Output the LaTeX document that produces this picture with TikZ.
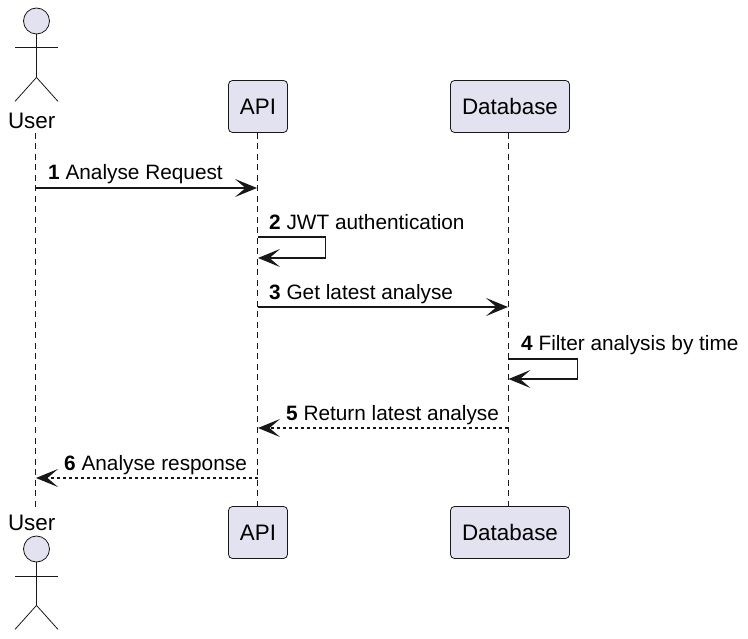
\documentclass[tikz,border=0pt]{standalone}
\usepackage{fontspec}
\setmainfont{Liberation Sans}
\usetikzlibrary{arrows.meta,calc}
\definecolor{pfill}{HTML}{E2E2F0}
\definecolor{pline}{HTML}{181818}
\tikzset{
  participant/.style={draw=pline,fill=pfill,line width=0.8pt,rounded corners=4pt,inner sep=0pt,
    minimum height=52pt,font=\fontsize{22.4}{26}\selectfont,text=black},
  actorpart/.style={draw=pline,line width=0.8pt},
  actorhead/.style={circle,draw=pline,fill=pfill,line width=0.8pt,minimum size=26pt,inner sep=0pt},
  actorlabel/.style={inner sep=0pt,anchor=base,font=\fontsize{22.4}{26}\selectfont,text=black},
  lifeline/.style={draw=pline,line width=0.8pt,dash pattern=on 6pt off 4.5pt},
  msg/.style={draw=pline,line width=1.5pt,-{Stealth[length=22pt,width=18pt,inset=10.5pt,fill=pline]}},
  reply/.style={msg,dash pattern=on 3pt off 3pt},
  msglabel/.style={inner sep=0pt,anchor=base west,font=\fontsize{20.8}{25}\selectfont,text=black}
}
\newcommand{\actorfig}[3]{% name, head y, x
  \node[actorhead] (#1) at (#3,#2) {};
  \draw[actorpart] (#1.south) -- ++(0,43) coordinate (#1hip);
  \draw[actorpart] ($(#1.south)+(-21.5,13.5)$) -- ++(42.5,0);
  \draw[actorpart] (#1hip) -- ++(-21.5,24);
  \draw[actorpart] (#1hip) -- ++(21.5,24);
}
\begin{document}
\begin{tikzpicture}[x=1pt,y=-1pt]
\useasboundingbox (0,0) rectangle (748,639);
% lifeline anchors
\coordinate (uTop) at (35.5,133);
\coordinate (uBot) at (35.5,507);
\coordinate (aTop) at (257.5,133);
\coordinate (aBot) at (257.5,506);
\coordinate (dTop) at (508,133);
\coordinate (dBot) at (508,506);
% lifelines
\draw[lifeline] (uTop) -- (uBot);
\draw[lifeline] (aTop) -- (aBot);
\draw[lifeline] (dTop) -- (dBot);
% participants
\node[participant,minimum width=59pt] (apiT) at (258,106.5) {\raisebox{-1pt}{API}};
\node[participant,minimum width=119pt] (dbT) at (510,106.5) {\raisebox{-1pt}{Database}};
\node[participant,minimum width=59pt] (apiB) at (258,532.5) {\raisebox{-1pt}{API}};
\node[participant,minimum width=119pt] (dbB) at (510,532.5) {\raisebox{-1pt}{Database}};
% actors
\actorfig{userT}{21}{36.5}
\actorfig{userB}{549}{36.5}
\node[actorlabel] (userTl) at (31.7,128.5) {User};
\node[actorlabel] (userBl) at (31.7,530.5) {User};
% message ends
\coordinate (m1a) at (35.5,188);
\coordinate (m1b) at (257,188);
\coordinate (m2a) at (257.5,237);
\coordinate (m2b) at (258,258);
\coordinate (m3a) at (257.5,307);
\coordinate (m3b) at (508,307);
\coordinate (m4a) at (508,359);
\coordinate (m4b) at (508.5,379);
\coordinate (m5a) at (508,428);
\coordinate (m5b) at (258,428);
\coordinate (m6a) at (257.5,478);
\coordinate (m6b) at (36,478);
% messages
\draw[msg] (m1a) -- (m1b);
\draw[msg] (m2a) -- ++(68,0) |- (m2b);
\draw[msg] (m3a) -- (m3b);
\draw[msg] (m4a) -- ++(69.5,0) |- (m4b);
\draw[reply] (m5a) -- (m5b);
\draw[reply] (m6a) -- (m6b);
% labels
\node[msglabel] (l1) at (48,180) {\textbf{1} Analyse Request};
\node[msglabel] (l2) at (269,229.5) {\textbf{2} JWT authentication};
\node[msglabel] (l3) at (269,299.5) {\textbf{3} Get latest analyse};
\node[msglabel] (l4) at (521,350.5) {\textbf{4} Filter analysis by time};
\node[msglabel] (l5) at (286,420.5) {\textbf{5} Return latest analyse};
\node[msglabel] (l6) at (64,470.5) {\textbf{6} Analyse response};
\end{tikzpicture}
\end{document}
